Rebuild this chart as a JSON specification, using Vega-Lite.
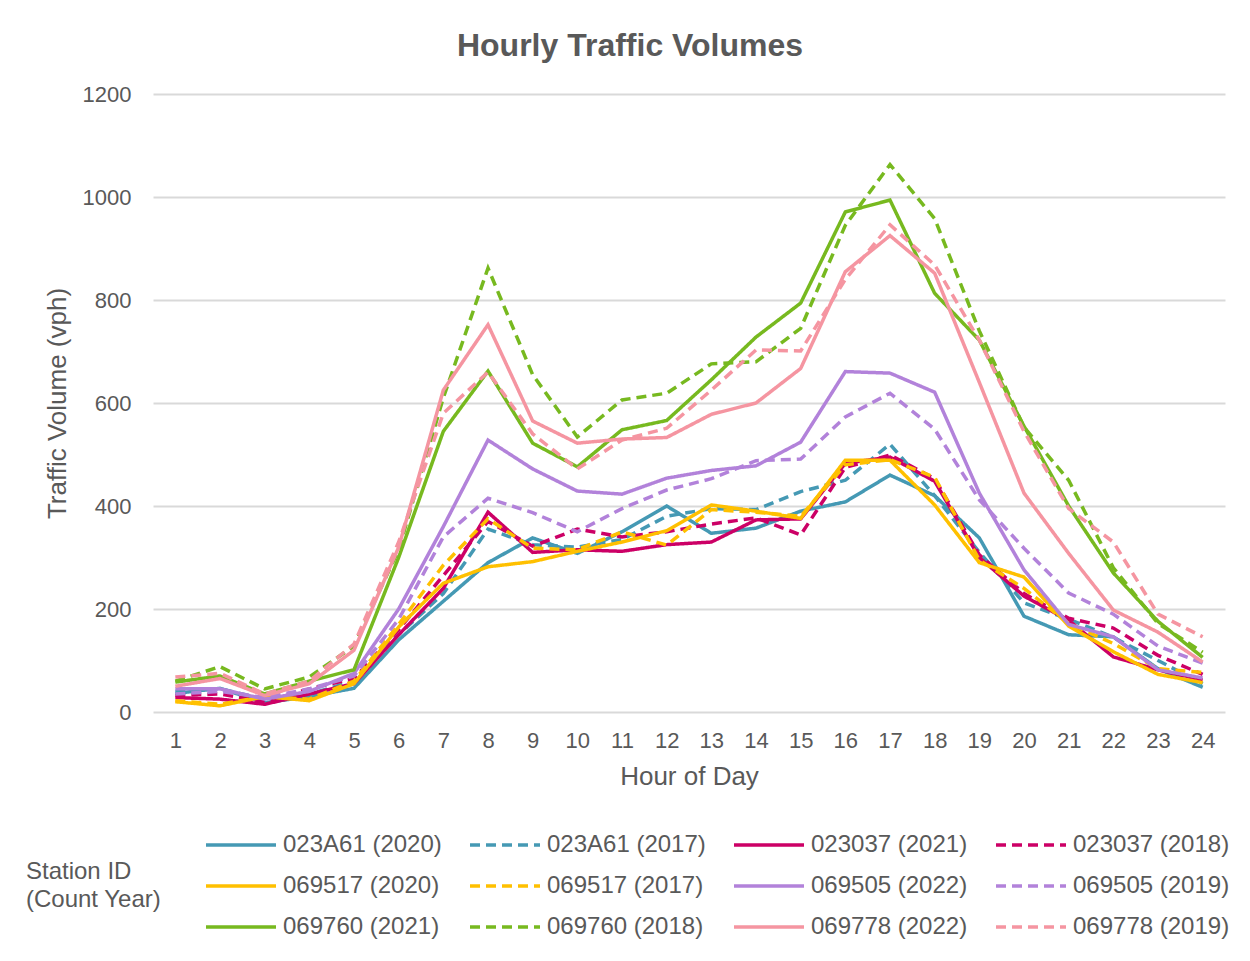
{
  "$schema": "https://vega.github.io/schema/vega-lite/v6.json",
  "width": 1072,
  "height": 618,
  "autosize": {"type": "none"},
  "padding": {"left": 153, "top": 94, "right": 25, "bottom": 249},
  "background": "white",
  "config": {
    "font": "Liberation Sans",
    "view": {"stroke": null},
    "axis": {"labelColor": "#595959", "titleColor": "#595959", "labelFont": "Liberation Sans", "titleFont": "Liberation Sans"}
  },
  "title": {"text": "Hourly Traffic Volumes", "fontSize": 32, "font": "Liberation Sans", "fontWeight": "bold", "color": "#595959", "anchor": "middle", "dx": -59, "offset": 20},
  "datasets": {
    "traffic": [
      {"h":1,"s":"023A61 (2020)","v":36},{"h":2,"s":"023A61 (2020)","v":46},{"h":3,"s":"023A61 (2020)","v":18},{"h":4,"s":"023A61 (2020)","v":30},{"h":5,"s":"023A61 (2020)","v":46},{"h":6,"s":"023A61 (2020)","v":140},{"h":7,"s":"023A61 (2020)","v":215},{"h":8,"s":"023A61 (2020)","v":290},{"h":9,"s":"023A61 (2020)","v":338},{"h":10,"s":"023A61 (2020)","v":308},{"h":11,"s":"023A61 (2020)","v":350},{"h":12,"s":"023A61 (2020)","v":400},{"h":13,"s":"023A61 (2020)","v":347},{"h":14,"s":"023A61 (2020)","v":357},{"h":15,"s":"023A61 (2020)","v":390},{"h":16,"s":"023A61 (2020)","v":408},{"h":17,"s":"023A61 (2020)","v":460},{"h":18,"s":"023A61 (2020)","v":420},{"h":19,"s":"023A61 (2020)","v":338},{"h":20,"s":"023A61 (2020)","v":186},{"h":21,"s":"023A61 (2020)","v":150},{"h":22,"s":"023A61 (2020)","v":146},{"h":23,"s":"023A61 (2020)","v":84},{"h":24,"s":"023A61 (2020)","v":48},
      {"h":1,"s":"023A61 (2017)","v":40},{"h":2,"s":"023A61 (2017)","v":45},{"h":3,"s":"023A61 (2017)","v":25},{"h":4,"s":"023A61 (2017)","v":35},{"h":5,"s":"023A61 (2017)","v":60},{"h":6,"s":"023A61 (2017)","v":150},{"h":7,"s":"023A61 (2017)","v":230},{"h":8,"s":"023A61 (2017)","v":355},{"h":9,"s":"023A61 (2017)","v":325},{"h":10,"s":"023A61 (2017)","v":320},{"h":11,"s":"023A61 (2017)","v":335},{"h":12,"s":"023A61 (2017)","v":380},{"h":13,"s":"023A61 (2017)","v":395},{"h":14,"s":"023A61 (2017)","v":393},{"h":15,"s":"023A61 (2017)","v":428},{"h":16,"s":"023A61 (2017)","v":450},{"h":17,"s":"023A61 (2017)","v":520},{"h":18,"s":"023A61 (2017)","v":420},{"h":19,"s":"023A61 (2017)","v":310},{"h":20,"s":"023A61 (2017)","v":212},{"h":21,"s":"023A61 (2017)","v":180},{"h":22,"s":"023A61 (2017)","v":145},{"h":23,"s":"023A61 (2017)","v":100},{"h":24,"s":"023A61 (2017)","v":55},
      {"h":1,"s":"023037 (2021)","v":28},{"h":2,"s":"023037 (2021)","v":25},{"h":3,"s":"023037 (2021)","v":15},{"h":4,"s":"023037 (2021)","v":35},{"h":5,"s":"023037 (2021)","v":55},{"h":6,"s":"023037 (2021)","v":150},{"h":7,"s":"023037 (2021)","v":240},{"h":8,"s":"023037 (2021)","v":388},{"h":9,"s":"023037 (2021)","v":310},{"h":10,"s":"023037 (2021)","v":315},{"h":11,"s":"023037 (2021)","v":312},{"h":12,"s":"023037 (2021)","v":325},{"h":13,"s":"023037 (2021)","v":330},{"h":14,"s":"023037 (2021)","v":373},{"h":15,"s":"023037 (2021)","v":375},{"h":16,"s":"023037 (2021)","v":483},{"h":17,"s":"023037 (2021)","v":495},{"h":18,"s":"023037 (2021)","v":448},{"h":19,"s":"023037 (2021)","v":300},{"h":20,"s":"023037 (2021)","v":225},{"h":21,"s":"023037 (2021)","v":178},{"h":22,"s":"023037 (2021)","v":107},{"h":23,"s":"023037 (2021)","v":82},{"h":24,"s":"023037 (2021)","v":62},
      {"h":1,"s":"023037 (2018)","v":32},{"h":2,"s":"023037 (2018)","v":35},{"h":3,"s":"023037 (2018)","v":20},{"h":4,"s":"023037 (2018)","v":45},{"h":5,"s":"023037 (2018)","v":65},{"h":6,"s":"023037 (2018)","v":160},{"h":7,"s":"023037 (2018)","v":265},{"h":8,"s":"023037 (2018)","v":370},{"h":9,"s":"023037 (2018)","v":322},{"h":10,"s":"023037 (2018)","v":355},{"h":11,"s":"023037 (2018)","v":340},{"h":12,"s":"023037 (2018)","v":350},{"h":13,"s":"023037 (2018)","v":365},{"h":14,"s":"023037 (2018)","v":377},{"h":15,"s":"023037 (2018)","v":344},{"h":16,"s":"023037 (2018)","v":475},{"h":17,"s":"023037 (2018)","v":499},{"h":18,"s":"023037 (2018)","v":453},{"h":19,"s":"023037 (2018)","v":305},{"h":20,"s":"023037 (2018)","v":230},{"h":21,"s":"023037 (2018)","v":182},{"h":22,"s":"023037 (2018)","v":163},{"h":23,"s":"023037 (2018)","v":110},{"h":24,"s":"023037 (2018)","v":73},
      {"h":1,"s":"069517 (2020)","v":20},{"h":2,"s":"069517 (2020)","v":12},{"h":3,"s":"069517 (2020)","v":30},{"h":4,"s":"069517 (2020)","v":22},{"h":5,"s":"069517 (2020)","v":55},{"h":6,"s":"069517 (2020)","v":165},{"h":7,"s":"069517 (2020)","v":250},{"h":8,"s":"069517 (2020)","v":282},{"h":9,"s":"069517 (2020)","v":292},{"h":10,"s":"069517 (2020)","v":312},{"h":11,"s":"069517 (2020)","v":330},{"h":12,"s":"069517 (2020)","v":352},{"h":13,"s":"069517 (2020)","v":402},{"h":14,"s":"069517 (2020)","v":390},{"h":15,"s":"069517 (2020)","v":376},{"h":16,"s":"069517 (2020)","v":489},{"h":17,"s":"069517 (2020)","v":489},{"h":18,"s":"069517 (2020)","v":402},{"h":19,"s":"069517 (2020)","v":290},{"h":20,"s":"069517 (2020)","v":262},{"h":21,"s":"069517 (2020)","v":167},{"h":22,"s":"069517 (2020)","v":117},{"h":23,"s":"069517 (2020)","v":73},{"h":24,"s":"069517 (2020)","v":57},
      {"h":1,"s":"069517 (2017)","v":22},{"h":2,"s":"069517 (2017)","v":15},{"h":3,"s":"069517 (2017)","v":30},{"h":4,"s":"069517 (2017)","v":25},{"h":5,"s":"069517 (2017)","v":60},{"h":6,"s":"069517 (2017)","v":170},{"h":7,"s":"069517 (2017)","v":285},{"h":8,"s":"069517 (2017)","v":375},{"h":9,"s":"069517 (2017)","v":318},{"h":10,"s":"069517 (2017)","v":315},{"h":11,"s":"069517 (2017)","v":350},{"h":12,"s":"069517 (2017)","v":324},{"h":13,"s":"069517 (2017)","v":393},{"h":14,"s":"069517 (2017)","v":388},{"h":15,"s":"069517 (2017)","v":380},{"h":16,"s":"069517 (2017)","v":480},{"h":17,"s":"069517 (2017)","v":490},{"h":18,"s":"069517 (2017)","v":456},{"h":19,"s":"069517 (2017)","v":295},{"h":20,"s":"069517 (2017)","v":240},{"h":21,"s":"069517 (2017)","v":172},{"h":22,"s":"069517 (2017)","v":133},{"h":23,"s":"069517 (2017)","v":84},{"h":24,"s":"069517 (2017)","v":77},
      {"h":1,"s":"069505 (2022)","v":45},{"h":2,"s":"069505 (2022)","v":45},{"h":3,"s":"069505 (2022)","v":25},{"h":4,"s":"069505 (2022)","v":40},{"h":5,"s":"069505 (2022)","v":75},{"h":6,"s":"069505 (2022)","v":200},{"h":7,"s":"069505 (2022)","v":360},{"h":8,"s":"069505 (2022)","v":528},{"h":9,"s":"069505 (2022)","v":472},{"h":10,"s":"069505 (2022)","v":429},{"h":11,"s":"069505 (2022)","v":423},{"h":12,"s":"069505 (2022)","v":454},{"h":13,"s":"069505 (2022)","v":469},{"h":14,"s":"069505 (2022)","v":478},{"h":15,"s":"069505 (2022)","v":524},{"h":16,"s":"069505 (2022)","v":661},{"h":17,"s":"069505 (2022)","v":658},{"h":18,"s":"069505 (2022)","v":621},{"h":19,"s":"069505 (2022)","v":425},{"h":20,"s":"069505 (2022)","v":276},{"h":21,"s":"069505 (2022)","v":170},{"h":22,"s":"069505 (2022)","v":146},{"h":23,"s":"069505 (2022)","v":82},{"h":24,"s":"069505 (2022)","v":66},
      {"h":1,"s":"069505 (2019)","v":35},{"h":2,"s":"069505 (2019)","v":40},{"h":3,"s":"069505 (2019)","v":28},{"h":4,"s":"069505 (2019)","v":45},{"h":5,"s":"069505 (2019)","v":70},{"h":6,"s":"069505 (2019)","v":180},{"h":7,"s":"069505 (2019)","v":340},{"h":8,"s":"069505 (2019)","v":415},{"h":9,"s":"069505 (2019)","v":387},{"h":10,"s":"069505 (2019)","v":350},{"h":11,"s":"069505 (2019)","v":395},{"h":12,"s":"069505 (2019)","v":431},{"h":13,"s":"069505 (2019)","v":453},{"h":14,"s":"069505 (2019)","v":488},{"h":15,"s":"069505 (2019)","v":491},{"h":16,"s":"069505 (2019)","v":573},{"h":17,"s":"069505 (2019)","v":619},{"h":18,"s":"069505 (2019)","v":549},{"h":19,"s":"069505 (2019)","v":412},{"h":20,"s":"069505 (2019)","v":318},{"h":21,"s":"069505 (2019)","v":231},{"h":22,"s":"069505 (2019)","v":190},{"h":23,"s":"069505 (2019)","v":128},{"h":24,"s":"069505 (2019)","v":95},
      {"h":1,"s":"069760 (2021)","v":58},{"h":2,"s":"069760 (2021)","v":70},{"h":3,"s":"069760 (2021)","v":35},{"h":4,"s":"069760 (2021)","v":60},{"h":5,"s":"069760 (2021)","v":82},{"h":6,"s":"069760 (2021)","v":300},{"h":7,"s":"069760 (2021)","v":545},{"h":8,"s":"069760 (2021)","v":662},{"h":9,"s":"069760 (2021)","v":522},{"h":10,"s":"069760 (2021)","v":476},{"h":11,"s":"069760 (2021)","v":548},{"h":12,"s":"069760 (2021)","v":566},{"h":13,"s":"069760 (2021)","v":645},{"h":14,"s":"069760 (2021)","v":728},{"h":15,"s":"069760 (2021)","v":794},{"h":16,"s":"069760 (2021)","v":971},{"h":17,"s":"069760 (2021)","v":994},{"h":18,"s":"069760 (2021)","v":813},{"h":19,"s":"069760 (2021)","v":722},{"h":20,"s":"069760 (2021)","v":555},{"h":21,"s":"069760 (2021)","v":400},{"h":22,"s":"069760 (2021)","v":270},{"h":23,"s":"069760 (2021)","v":176},{"h":24,"s":"069760 (2021)","v":106},
      {"h":1,"s":"069760 (2018)","v":60},{"h":2,"s":"069760 (2018)","v":88},{"h":3,"s":"069760 (2018)","v":45},{"h":4,"s":"069760 (2018)","v":68},{"h":5,"s":"069760 (2018)","v":128},{"h":6,"s":"069760 (2018)","v":315},{"h":7,"s":"069760 (2018)","v":610},{"h":8,"s":"069760 (2018)","v":862},{"h":9,"s":"069760 (2018)","v":655},{"h":10,"s":"069760 (2018)","v":534},{"h":11,"s":"069760 (2018)","v":606},{"h":12,"s":"069760 (2018)","v":619},{"h":13,"s":"069760 (2018)","v":676},{"h":14,"s":"069760 (2018)","v":680},{"h":15,"s":"069760 (2018)","v":745},{"h":16,"s":"069760 (2018)","v":945},{"h":17,"s":"069760 (2018)","v":1063},{"h":18,"s":"069760 (2018)","v":958},{"h":19,"s":"069760 (2018)","v":740},{"h":20,"s":"069760 (2018)","v":553},{"h":21,"s":"069760 (2018)","v":450},{"h":22,"s":"069760 (2018)","v":280},{"h":23,"s":"069760 (2018)","v":172},{"h":24,"s":"069760 (2018)","v":116},
      {"h":1,"s":"069778 (2022)","v":50},{"h":2,"s":"069778 (2022)","v":65},{"h":3,"s":"069778 (2022)","v":32},{"h":4,"s":"069778 (2022)","v":55},{"h":5,"s":"069778 (2022)","v":120},{"h":6,"s":"069778 (2022)","v":320},{"h":7,"s":"069778 (2022)","v":625},{"h":8,"s":"069778 (2022)","v":752},{"h":9,"s":"069778 (2022)","v":565},{"h":10,"s":"069778 (2022)","v":522},{"h":11,"s":"069778 (2022)","v":530},{"h":12,"s":"069778 (2022)","v":533},{"h":13,"s":"069778 (2022)","v":578},{"h":14,"s":"069778 (2022)","v":600},{"h":15,"s":"069778 (2022)","v":667},{"h":16,"s":"069778 (2022)","v":855},{"h":17,"s":"069778 (2022)","v":925},{"h":18,"s":"069778 (2022)","v":852},{"h":19,"s":"069778 (2022)","v":640},{"h":20,"s":"069778 (2022)","v":425},{"h":21,"s":"069778 (2022)","v":308},{"h":22,"s":"069778 (2022)","v":198},{"h":23,"s":"069778 (2022)","v":155},{"h":24,"s":"069778 (2022)","v":97},
      {"h":1,"s":"069778 (2019)","v":68},{"h":2,"s":"069778 (2019)","v":75},{"h":3,"s":"069778 (2019)","v":35},{"h":4,"s":"069778 (2019)","v":60},{"h":5,"s":"069778 (2019)","v":132},{"h":6,"s":"069778 (2019)","v":330},{"h":7,"s":"069778 (2019)","v":580},{"h":8,"s":"069778 (2019)","v":660},{"h":9,"s":"069778 (2019)","v":540},{"h":10,"s":"069778 (2019)","v":472},{"h":11,"s":"069778 (2019)","v":528},{"h":12,"s":"069778 (2019)","v":551},{"h":13,"s":"069778 (2019)","v":625},{"h":14,"s":"069778 (2019)","v":703},{"h":15,"s":"069778 (2019)","v":701},{"h":16,"s":"069778 (2019)","v":840},{"h":17,"s":"069778 (2019)","v":946},{"h":18,"s":"069778 (2019)","v":868},{"h":19,"s":"069778 (2019)","v":722},{"h":20,"s":"069778 (2019)","v":545},{"h":21,"s":"069778 (2019)","v":395},{"h":22,"s":"069778 (2019)","v":330},{"h":23,"s":"069778 (2019)","v":190},{"h":24,"s":"069778 (2019)","v":146}
    ]
  },
  "data": {"name": "traffic"},
  "mark": {"type": "line", "strokeWidth": 3.5},
  "encoding": {
    "x": {
      "field": "h", "type": "ordinal", "sort": null,
      "scale": {"type": "point", "padding": 0.5},
      "axis": {"title": "Hour of Day", "labelAngle": 0, "labelFontSize": 22, "titleFontSize": 26, "titleFontWeight": "normal", "ticks": false, "domain": false, "labelPadding": 18, "titlePadding": 12}
    },
    "y": {
      "field": "v", "type": "quantitative",
      "scale": {"domain": [0, 1200], "nice": false},
      "axis": {"title": "Traffic Volume (vph)", "values": [0,200,400,600,800,1000,1200], "format": "d", "labelFontSize": 22, "titleFontSize": 26, "titleFontWeight": "normal", "ticks": false, "domain": false, "labelPadding": 22, "titlePadding": 12, "gridColor": "#D9D9D9", "gridWidth": 2}
    },
    "color": {
      "field": "s", "type": "nominal", "sort": null,
      "scale": {
        "domain": ["023A61 (2020)","023A61 (2017)","023037 (2021)","023037 (2018)","069517 (2020)","069517 (2017)","069505 (2022)","069505 (2019)","069760 (2021)","069760 (2018)","069778 (2022)","069778 (2019)"],
        "range": ["#4599B4","#4599B4","#CC0066","#CC0066","#FFC000","#FFC000","#B282DA","#B282DA","#77B91F","#77B91F","#F595A1","#F595A1"]
      },
      "legend": {
        "title": ["Station ID", "(Count Year)"],
        "orient": "none", "legendX": -127, "legendY": 739,
        "direction": "horizontal", "columns": 4,
        "titleOrient": "left", "titleAnchor": "middle", "titleFontSize": 24, "titleLineHeight": 28, "titleFontWeight": "normal", "titleColor": "#595959", "titlePadding": 42,
        "labelFontSize": 24, "labelColor": "#595959", "labelOffset": 5, "labelLimit": 300,
        "symbolType": "stroke", "symbolSize": 4900, "symbolStrokeWidth": 3.5,
        "clipHeight": 24,
        "columnPadding": 26, "rowPadding": 17
      }
    },
    "strokeDash": {
      "field": "s", "type": "nominal", "sort": null,
      "scale": {
        "domain": ["023A61 (2020)","023A61 (2017)","023037 (2021)","023037 (2018)","069517 (2020)","069517 (2017)","069505 (2022)","069505 (2019)","069760 (2021)","069760 (2018)","069778 (2022)","069778 (2019)"],
        "range": [[1,0],[10,6],[1,0],[10,6],[1,0],[10,6],[1,0],[10,6],[1,0],[10,6],[1,0],[10,6]]
      },
      "legend": {
        "title": ["Station ID", "(Count Year)"]
      }
    }
  }
}
